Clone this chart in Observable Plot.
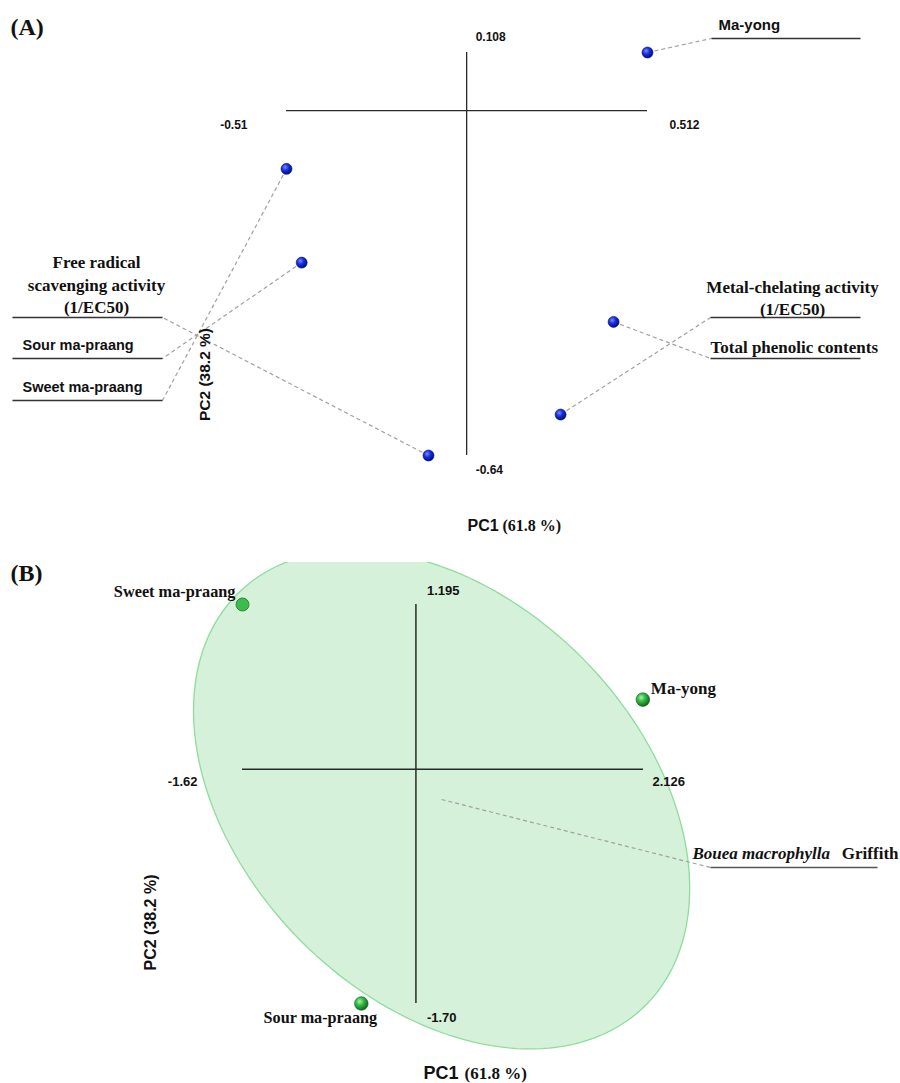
<!DOCTYPE html>
<html>
<head>
<meta charset="utf-8">
<script src="https://cdn.jsdelivr.net/npm/d3@7"></script>
<script src="https://cdn.jsdelivr.net/npm/@observablehq/plot@0.6"></script>
<style>
  html, body { margin: 0; padding: 0; background: #fff; }
  #chart { width: 900px; }
  #chart svg { display: block; background: #fff; }
</style>
</head>
<body>
<div id="chart"></div>
<script>
// ================= DATA =================
// Panel A: PCA loadings / scores plotted as points (PC1, PC2)
const namesA = ["Ma-yong", "Sweet ma-praang", "Sour ma-praang",
  "Free radical scavenging activity (1/EC50)", "Total phenolic contents",
  "Metal-chelating activity (1/EC50)"];
const pc1A = [0.512, -0.51, -0.467, -0.108, 0.416, 0.266];
const pc2A = [0.108, -0.108, -0.282, -0.64, -0.392, -0.564];
const axisXA = [-0.51, 0.512];
const axisYA = [-0.64, 0.108];
const axisXLabelsA = ["-0.51", "0.512"];
const axisYLabelsA = ["-0.64", "0.108"];

// Panel B: PCA scores of the samples
const namesB = ["Sweet ma-praang", "Ma-yong", "Sour ma-praang"];
const pc1B = [-1.62, 2.12, -0.51];
const pc2B = [1.195, 0.505, -1.70];
const axisXB = [-1.62, 2.126];
const axisYB = [-1.70, 1.195];
const axisXLabelsB = ["-1.62", "2.126"];
const axisYLabelsB = ["-1.70", "1.195"];
// group ellipse (Boouea macrophylla Griffith): centre, semi-axes, rotation in PC units
const ellipseCenterB = [0.24, -0.22];
const ellipseAxesB = [2.48, 1.58];
const ellipseAngleB = -27.5;
const groupNameB = ["Bouea macrophylla", "Griffith"];

const titleX = "PC1";
const titleXPct = "(61.8 %)";
const titleY = "PC2 (38.2 %)";

// ================= STYLE / LAYOUT =================
const SANS = "'Liberation Sans', Arial, sans-serif";
const SERIF = "'Liberation Serif', 'Times New Roman', serif";
const INK = "#111";
const AXIS = "#2a2a2a";
const LEADER = "#a0a0a0";

const dataA = namesA.map((n, i) => ({name: n, x: pc1A[i], y: pc2A[i]}));
const dataB = namesB.map((n, i) => ({name: n, x: pc1B[i], y: pc2B[i]}));

const xScaleA = {domain: axisXA, range: [286, 647]};
const yScaleA = {domain: axisYA, range: [455, 52]};
const sxA = Plot.scale({x: xScaleA});
const syA = Plot.scale({y: yScaleA});

const xScaleB = {domain: axisXB, range: [242, 643]};
const yScaleB = {domain: axisYB, range: [463, 64]};
const sxB = Plot.scale({x: xScaleB});
const syB = Plot.scale({y: yScaleB});

// text placed at a pixel position within a panel
function T(sx, sy, px, py, text, o) {
  return Plot.text([{x: sx.invert(px), y: sy.invert(py), t: text}],
    {x: "x", y: "y", text: "t", fill: INK, ...o});
}

// leader anchor (label side) positions in pixels, panel A
const leaderLayoutA = {
  "Ma-yong": {ax: 711, ay: 38, ux: 860},
  "Sweet ma-praang": {ax: 162, ay: 400, ux: 12},
  "Sour ma-praang": {ax: 162, ay: 358, ux: 12},
  "Free radical scavenging activity (1/EC50)": {ax: 162, ay: 317, ux: 12},
  "Total phenolic contents": {ax: 710, ay: 358, ux: 860},
  "Metal-chelating activity (1/EC50)": {ax: 710, ay: 317, ux: 860}
};
const leadersA = dataA.map(d => {
  const L = leaderLayoutA[d.name];
  return {x1: d.x, y1: d.y, x2: sxA.invert(L.ax), y2: syA.invert(L.ay),
          u1: sxA.invert(L.ax), u2: sxA.invert(L.ux)};
});

const labelStyleSans = {fontFamily: SANS, fontWeight: "bold"};
const labelStyleSerif = {fontFamily: SERIF, fontWeight: "bold"};

// ================= PANEL A =================
const plotA = Plot.plot({
  width: 900, height: 540, margin: 0,
  style: {background: "#fff", overflow: "visible"},
  x: {...xScaleA, axis: null},
  y: {...yScaleA, axis: null},
  marks: [
    // axes cross
    Plot.ruleY([0], {x1: axisXA[0], x2: axisXA[1], stroke: AXIS, strokeWidth: 1.3}),
    Plot.ruleX([0], {y1: axisYA[0], y2: axisYA[1], stroke: AXIS, strokeWidth: 1.3}),
    // axis end values
    Plot.text([axisXA[0]], {x: d => d, y: 0, text: () => axisXLabelsA[0], textAnchor: "end", dx: -39, dy: 14, fontFamily: SANS, fontWeight: "bold", fontSize: 12, fill: INK}),
    Plot.text([axisXA[1]], {x: d => d, y: 0, text: () => axisXLabelsA[1], textAnchor: "start", dx: 22, dy: 14, fontFamily: SANS, fontWeight: "bold", fontSize: 12, fill: INK}),
    Plot.text([axisYA[1]], {x: 0, y: d => d, text: () => axisYLabelsA[1], textAnchor: "start", dx: 9, dy: -15, fontFamily: SANS, fontWeight: "bold", fontSize: 12, fill: INK}),
    Plot.text([axisYA[0]], {x: 0, y: d => d, text: () => axisYLabelsA[0], textAnchor: "start", dx: 9, dy: 15, fontFamily: SANS, fontWeight: "bold", fontSize: 12, fill: INK}),
    // leaders and underlines
    Plot.link(leadersA, {x1: "x1", y1: "y1", x2: "x2", y2: "y2", stroke: LEADER, strokeWidth: 1.2, strokeDasharray: "4,3"}),
    Plot.link(leadersA, {x1: "u1", y1: "y2", x2: "u2", y2: "y2", stroke: "#333", strokeWidth: 1.4}),
    // points
    Plot.dot(dataA, {x: "x", y: "y", r: 5.5, fill: "url(#gBlue)", stroke: "#00106a", strokeWidth: 0.6}),
    // labels
    T(sxA, syA, 718, 25, namesA[0], {...labelStyleSans, fontSize: 15, textAnchor: "start"}),
    T(sxA, syA, 22, 387, namesA[1], {...labelStyleSans, fontSize: 14.5, textAnchor: "start"}),
    T(sxA, syA, 22, 345, namesA[2], {...labelStyleSans, fontSize: 14.5, textAnchor: "start"}),
    T(sxA, syA, 96, 283, "Free radical\nscavenging activity\n(1/EC50)", {...labelStyleSerif, fontSize: 17, textAnchor: "middle", lineHeight: 1.32}),
    T(sxA, syA, 710, 347, namesA[4], {...labelStyleSerif, fontSize: 17, textAnchor: "start"}),
    T(sxA, syA, 792, 296, "Metal-chelating activity\n(1/EC50)", {...labelStyleSerif, fontSize: 17, textAnchor: "middle", lineHeight: 1.3}),
    // axis titles
    T(sxA, syA, 467, 525, titleX, {...labelStyleSans, fontSize: 16, textAnchor: "start"}),
    T(sxA, syA, 502, 525, titleXPct, {...labelStyleSerif, fontSize: 16, textAnchor: "start"}),
    T(sxA, syA, 205, 374, titleY, {...labelStyleSans, fontSize: 15.5, textAnchor: "middle", rotate: -90}),
    // panel tag
    T(sxA, syA, 10, 27, "(A)", {...labelStyleSerif, fontSize: 24, textAnchor: "start"})
  ]
});

// ================= PANEL B =================
const ang = ellipseAngleB * Math.PI / 180;
const ellipsePts = d3.range(0, 361, 2).map(deg => {
  const t = deg * Math.PI / 180;
  const ex = ellipseAxesB[0] * Math.cos(t), ey = ellipseAxesB[1] * Math.sin(t);
  return {x: ellipseCenterB[0] + ex * Math.cos(ang) - ey * Math.sin(ang),
          y: ellipseCenterB[1] + ex * Math.sin(ang) + ey * Math.cos(ang)};
});
const groupLeader = [{x1: ellipseCenterB[0], y1: ellipseCenterB[1],
  x2: sxB.invert(710), y2: syB.invert(327), u2: sxB.invert(877)}];

const plotB = Plot.plot({
  width: 900, height: 543, margin: 0, marginTop: 22,
  style: {background: "#fff", overflow: "visible"},
  x: {...xScaleB, axis: null},
  y: {...yScaleB, axis: null},
  marks: [
    Plot.line(ellipsePts, {x: "x", y: "y", fill: "#d5f1da", stroke: "#8fdc9b", strokeWidth: 1.3, clip: true, curve: "linear"}),
    // axes cross
    Plot.ruleY([0], {x1: axisXB[0], x2: axisXB[1], stroke: AXIS, strokeWidth: 1.5}),
    Plot.ruleX([0], {y1: axisYB[0], y2: axisYB[1], stroke: AXIS, strokeWidth: 1.5}),
    Plot.text([axisXB[0]], {x: d => d, y: 0, text: () => axisXLabelsB[0], textAnchor: "end", dx: -45, dy: 13, fontFamily: SANS, fontWeight: "bold", fontSize: 13, fill: INK}),
    Plot.text([axisXB[1]], {x: d => d, y: 0, text: () => axisXLabelsB[1], textAnchor: "start", dx: 9, dy: 13, fontFamily: SANS, fontWeight: "bold", fontSize: 13, fill: INK}),
    Plot.text([axisYB[1]], {x: 0, y: d => d, text: () => axisYLabelsB[1], textAnchor: "start", dx: 11, dy: -14, fontFamily: SANS, fontWeight: "bold", fontSize: 13, fill: INK}),
    Plot.text([axisYB[0]], {x: 0, y: d => d, text: () => axisYLabelsB[0], textAnchor: "start", dx: 11, dy: 14, fontFamily: SANS, fontWeight: "bold", fontSize: 13, fill: INK}),
    // group leader
    Plot.link(groupLeader, {x1: "x1", y1: "y1", x2: "x2", y2: "y2", stroke: LEADER, strokeWidth: 1.2, strokeDasharray: "4,3"}),
    Plot.link(groupLeader, {x1: "x2", y1: "y2", x2: "u2", y2: "y2", stroke: "#555", strokeWidth: 1.6}),
    T(sxB, syB, 692, 313, groupNameB[0], {...labelStyleSerif, fontStyle: "italic", fontSize: 17, textAnchor: "start"}),
    T(sxB, syB, 898, 313, groupNameB[1], {...labelStyleSerif, fontSize: 17, textAnchor: "end"}),
    // points
    Plot.dot(dataB, {filter: d => d.name === "Sweet ma-praang", x: "x", y: "y", r: 6.5, fill: "#3dbb4c", stroke: "#2b8a3b", strokeWidth: 1}),
    Plot.dot(dataB, {filter: d => d.name !== "Sweet ma-praang", x: "x", y: "y", r: 6.8, fill: "url(#gGreen)", stroke: "#145c1e", strokeWidth: 0.6}),
    // point labels
    Plot.text(dataB, {filter: d => d.name === "Sweet ma-praang", x: "x", y: "y", text: "name", textAnchor: "end", dx: -7, dy: -13, ...labelStyleSerif, fontSize: 16.3, fill: INK}),
    Plot.text(dataB, {filter: d => d.name === "Ma-yong", x: "x", y: "y", text: "name", textAnchor: "start", dx: 8, dy: -11, ...labelStyleSerif, fontSize: 17, fill: INK}),
    Plot.text(dataB, {filter: d => d.name === "Sour ma-praang", x: "x", y: "y", text: "name", textAnchor: "middle", dx: -41, dy: 14, ...labelStyleSerif, fontSize: 16.2, fill: INK}),
    // axis titles
    T(sxB, syB, 423, 533, titleX, {...labelStyleSans, fontSize: 18, textAnchor: "start"}),
    T(sxB, syB, 464, 533, titleXPct, {...labelStyleSerif, fontSize: 17, textAnchor: "start"}),
    T(sxB, syB, 150, 382, titleY, {...labelStyleSans, fontSize: 16, textAnchor: "middle", rotate: -90}),
    T(sxB, syB, 10, 33, "(B)", {...labelStyleSerif, fontSize: 24, textAnchor: "start"})
  ]
});

// gradients for the shaded spheres
function addDefs(svg) {
  const defs = d3.select(svg).insert("defs", ":first-child");
  const gb = defs.append("radialGradient").attr("id", "gBlue").attr("cx", "38%").attr("cy", "35%").attr("r", "65%");
  gb.append("stop").attr("offset", "0%").attr("stop-color", "#7f8cff");
  gb.append("stop").attr("offset", "45%").attr("stop-color", "#1730e6");
  gb.append("stop").attr("offset", "100%").attr("stop-color", "#000c80");
  const gg = defs.append("radialGradient").attr("id", "gGreen").attr("cx", "38%").attr("cy", "35%").attr("r", "65%");
  gg.append("stop").attr("offset", "0%").attr("stop-color", "#a6f5a6");
  gg.append("stop").attr("offset", "45%").attr("stop-color", "#33b944");
  gg.append("stop").attr("offset", "100%").attr("stop-color", "#126a1f");
}
addDefs(plotA);
addDefs(plotB);

document.getElementById("chart").append(plotA, plotB);
</script>
</body>
</html>
